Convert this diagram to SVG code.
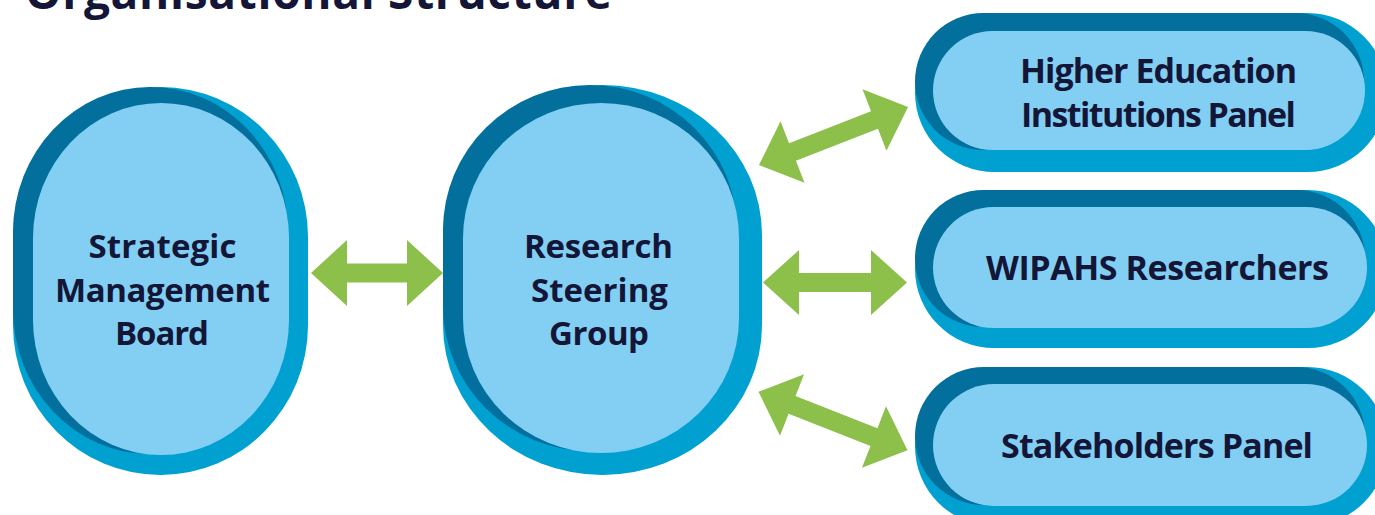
<svg xmlns="http://www.w3.org/2000/svg" width="1375" height="515" viewBox="0 0 1375 515">
<style>
.dark{fill:#026f9c}
.mid{fill:#00a0d1}
.inner{fill:#82cff3}
.lbl{font-family:"Open Sans","Noto Sans","Liberation Sans",sans-serif;font-weight:bold;fill:#141638;text-anchor:middle}
.n{font-size:33px}
.p{font-size:34px}
.arrow{fill:#8cc04b}
</style>
<rect width="1375" height="515" fill="#ffffff"/>
<text x="25" y="9" style="font-family:'Open Sans','Noto Sans','Liberation Sans',sans-serif;font-weight:bold;font-size:46px;fill:#141638" textLength="587">Organisational Structure</text>

<g id="strategic-management-board">
<rect class="mid" x="13" y="87" width="295" height="388" rx="147" ry="150"/>
<rect class="dark" x="13" y="87" width="275" height="367" rx="137" ry="145"/>
<rect class="inner" x="33" y="103" width="256" height="352" rx="128" ry="135"/>
<text class="lbl n" x="162.5" y="258" textLength="148">Strategic</text>
<text class="lbl n" x="162.5" y="302" textLength="215">Management</text>
<text class="lbl n" x="162" y="345" textLength="94">Board</text>
</g>

<g id="research-steering-group">
<rect class="mid" x="443" y="85" width="319" height="390" rx="159" ry="150"/>
<rect class="dark" x="443" y="85" width="294" height="366" rx="147" ry="145"/>
<rect class="inner" x="463" y="103" width="276" height="350" rx="138" ry="135"/>
<text class="lbl n" x="598.5" y="258" textLength="149">Research</text>
<text class="lbl n" x="599.5" y="302" textLength="137">Steering</text>
<text class="lbl n" x="599" y="345" textLength="100">Group</text>
</g>

<g id="higher-education-institutions-panel">
<rect class="mid" x="915" y="13" width="472" height="159" rx="79.5" ry="79.5"/>
<rect class="dark" x="915" y="13" width="449" height="137" rx="68.5" ry="68.5"/>
<rect class="inner" x="933" y="31" width="432" height="119" rx="59.5" ry="59.5"/>
<text class="lbl p" x="1158.5" y="83" textLength="277">Higher Education</text>
<text class="lbl p" x="1158.5" y="127" textLength="275">Institutions Panel</text>
</g>

<g id="wipahs-researchers">
<rect class="mid" x="915" y="190" width="472" height="158" rx="79" ry="79"/>
<rect class="dark" x="915" y="190" width="450" height="137" rx="68.5" ry="68.5"/>
<rect class="inner" x="933" y="207" width="434" height="121" rx="60.5" ry="60.5"/>
<text class="lbl p" x="1157.5" y="280" textLength="343">WIPAHS Researchers</text>
</g>

<g id="stakeholders-panel">
<rect class="mid" x="915" y="367" width="472" height="159" rx="79.5" ry="79.5"/>
<rect class="dark" x="915" y="367" width="450" height="138" rx="69" ry="69"/>
<rect class="inner" x="933" y="384" width="434" height="122" rx="61" ry="61"/>
<text class="lbl p" x="1157" y="458" textLength="312">Stakeholders Panel</text>
</g>

<g id="connectors">
<path class="arrow" transform="translate(377,273)" d="M-66,0 L-30,-33 L-30,-9.5 L30,-9.5 L30,-33 L66,0 L30,33 L30,9.5 L-30,9.5 L-30,33 Z"/>
<path class="arrow" transform="translate(835,282.5)" d="M-72,0 L-36,-32.5 L-36,-9.5 L36,-9.5 L36,-32.5 L72,0 L36,32.5 L36,9.5 L-36,9.5 L-36,32.5 Z"/>
<path class="arrow" transform="translate(833.5,136) rotate(-21.3)" d="M-80,0 L-44,-33 L-44,-9.5 L44,-9.5 L44,-33 L80,0 L44,33 L44,9.5 L-44,9.5 L-44,33 Z"/>
<path class="arrow" transform="translate(833,421) rotate(21.4)" d="M-80,0 L-44,-33 L-44,-9.5 L44,-9.5 L44,-33 L80,0 L44,33 L44,9.5 L-44,9.5 L-44,33 Z"/>
</g>
</svg>
